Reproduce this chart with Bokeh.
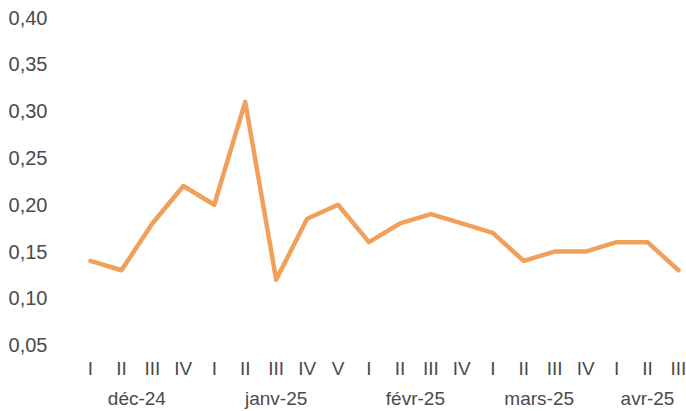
from bokeh.plotting import figure
from bokeh.models import Range1d, FixedTicker, CustomJSTickFormatter, LinearAxis
from bokeh.embed import file_html
from bokeh.resources import INLINE

# Data
weeks = ["I", "II", "III", "IV",
         "I", "II", "III", "IV", "V",
         "I", "II", "III", "IV",
         "I", "II", "III", "IV",
         "I", "II", "III"]
months = ["déc-24", "janv-25", "févr-25", "mars-25", "avr-25"]
month_sizes = [4, 5, 4, 4, 3]
values = [0.14, 0.13, 0.18, 0.22,
          0.20, 0.31, 0.12, 0.185, 0.20,
          0.16, 0.18, 0.19, 0.18,
          0.17, 0.14, 0.15, 0.15,
          0.16, 0.16, 0.13]
y_ticks = [0.05, 0.10, 0.15, 0.20, 0.25, 0.30, 0.35, 0.40]

x = list(range(len(values)))
month_centers = []
start = 0
for n in month_sizes:
    month_centers.append(start + (n - 1) / 2)
    start += n

FONT = "Liberation Sans"
TXT = "#4a4a4a"

p = figure(width=686, height=411, output_backend="svg", toolbar_location=None,
           x_range=Range1d(-0.969, 19.26), y_range=Range1d(0.0496, 0.4129),
           min_border_left=60, min_border_right=0, min_border_top=5, min_border_bottom=0)
p.outline_line_color = None
p.grid.visible = False
p.background_fill_color = "white"
p.border_fill_color = "white"

p.line(x, values, line_color="#F0A05A", line_width=4.5, line_join="round", line_cap="round")

# y axis
ya = p.yaxis[0]
ya.ticker = FixedTicker(ticks=y_ticks)
ya.formatter = CustomJSTickFormatter(code="return tick.toFixed(2).replace('.', ',');")
ya.axis_line_color = None
ya.major_tick_line_color = None
ya.minor_tick_line_color = None
ya.major_label_standoff = 7
ya.major_label_text_font = FONT
ya.major_label_text_font_size = "20px"
ya.major_label_text_color = TXT

# week axis
xa = p.xaxis[0]
xa.ticker = FixedTicker(ticks=x)
xa.formatter = CustomJSTickFormatter(args=dict(labels=weeks),
                                     code="return labels[Math.round(tick)];")
xa.axis_line_color = None
xa.major_tick_line_color = None
xa.minor_tick_line_color = None
xa.major_label_standoff = 6
xa.major_label_text_font = FONT
xa.major_label_text_font_size = "19px"
xa.major_label_text_color = TXT

# month axis
ma = LinearAxis(ticker=FixedTicker(ticks=month_centers),
                formatter=CustomJSTickFormatter(args=dict(labels=months, centers=month_centers),
                    code="var k = 0; var best = 1e9; for (var i = 0; i < centers.length; i++) { var d = Math.abs(centers[i] - tick); if (d < best) { best = d; k = i; } } return labels[k];"))
ma.axis_line_color = None
ma.major_tick_line_color = None
ma.minor_tick_line_color = None
ma.major_label_standoff = 0
ma.major_label_text_font = FONT
ma.major_label_text_font_size = "19px"
ma.major_label_text_color = TXT
p.add_layout(ma, "below")

open("out.html", "w").write(file_html(p, INLINE))
